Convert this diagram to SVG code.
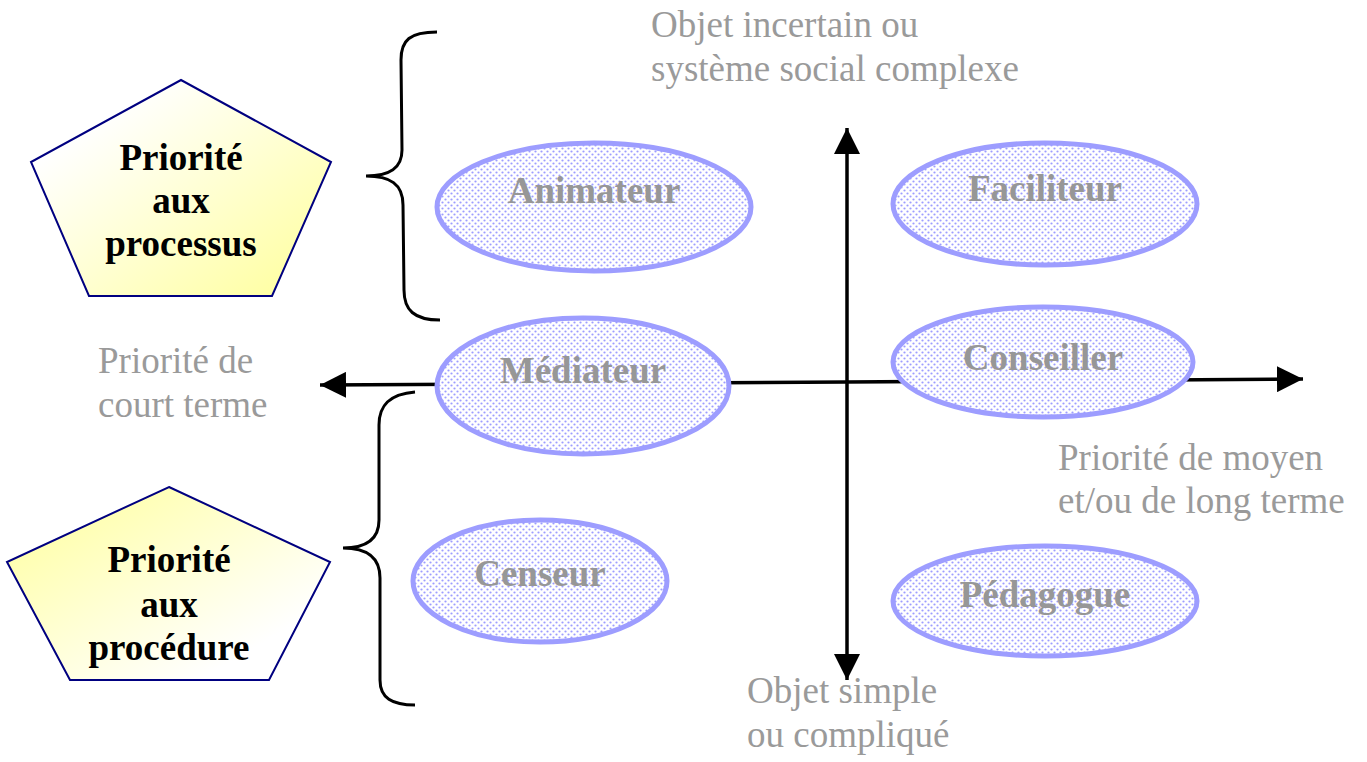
<svg xmlns="http://www.w3.org/2000/svg" width="1367" height="762" viewBox="0 0 1367 762">
  <defs>
    <pattern id="dots" width="6" height="6" patternUnits="userSpaceOnUse">
      <rect width="6" height="6" fill="#ffffff"/>
      <circle cx="1.5" cy="1.5" r="1.1" fill="#9d9dff"/>
      <circle cx="4.5" cy="4.5" r="1.1" fill="#9d9dff"/>
    </pattern>
    <linearGradient id="gradDown" x1="0" y1="0" x2="1" y2="1">
      <stop offset="0.2" stop-color="#ffffff"/>
      <stop offset="1" stop-color="#ffff99"/>
    </linearGradient>
    <linearGradient id="gradUp" x1="0" y1="0" x2="1" y2="1">
      <stop offset="0" stop-color="#ffff99"/>
      <stop offset="0.8" stop-color="#ffffff"/>
    </linearGradient>
    <marker id="arrow" viewBox="0 0 26 26" refX="26" refY="13" markerWidth="26" markerHeight="26" markerUnits="userSpaceOnUse" orient="auto">
      <path d="M0,0 L26,13 L0,26 Z" fill="#000"/>
    </marker>
    <style>
      .role { fill: url(#dots); stroke: #9d9dff; stroke-width: 5; }
      .role-label { font-family: "Liberation Serif", "Times New Roman", serif; font-weight: bold; font-size: 37px; fill: #979797; text-anchor: middle; }
      .axis-label { font-family: "Liberation Serif", "Times New Roman", serif; font-size: 37px; fill: #9a9a9a; }
      .penta { stroke: #000080; stroke-width: 2; }
      .penta-label { font-family: "Liberation Serif", "Times New Roman", serif; font-weight: bold; font-size: 37px; fill: #000; text-anchor: middle; }
      .axis { stroke: #000; stroke-width: 3.5; fill: none; marker-end: url(#arrow); }
      .brace { stroke: #000; stroke-width: 3; fill: none; }
    </style>
  </defs>

  <rect width="1367" height="762" fill="#ffffff"/>

  <!-- axes -->
  <g id="connectors">
    <path class="axis" d="M847,382 L320,385"/>
    <path class="axis" d="M847,382 L1303,379"/>
    <path class="axis" d="M847,382 L847,128"/>
    <path class="axis" d="M847,382 L847,680"/>
  </g>

  <!-- braces -->
  <g id="brace-top">
    <path class="brace" d="M437,32 C410,32 401,40 401,60 L402,150 C402,168 390,176 366,176 C390,176 403,184 403,205 L404,290 C404,310 414,320 440,320"/>
  </g>
  <g id="brace-bottom">
    <path class="brace" d="M415,392 C390,394 379,405 379,425 L379,520 C379,538 368,548 343,548 C368,548 380,558 380,578 L380,680 C380,698 392,705 415,705"/>
  </g>

  <!-- pentagons -->
  <g id="priorite-processus">
    <polygon class="penta" fill="url(#gradDown)" points="181,80 331,162 272,296 89,296 31,162"/>
    <text class="penta-label" x="181" y="170">Priorité</text>
    <text class="penta-label" x="181" y="213">aux</text>
    <text class="penta-label" x="181" y="256">processus</text>
  </g>
  <g id="priorite-procedure">
    <polygon class="penta" fill="url(#gradUp)" points="169,487 330,562 269,680 70,680 7,562"/>
    <text class="penta-label" x="169" y="572">Priorité</text>
    <text class="penta-label" x="169" y="617">aux</text>
    <text class="penta-label" x="169" y="660">procédure</text>
  </g>

  <!-- roles -->
  <g id="animateur">
    <ellipse class="role" cx="594" cy="207" rx="157" ry="64"/>
    <text class="role-label" x="594" y="203">Animateur</text>
  </g>
  <g id="faciliteur">
    <ellipse class="role" cx="1045" cy="204" rx="152" ry="61"/>
    <text class="role-label" x="1045" y="201">Faciliteur</text>
  </g>
  <g id="mediateur">
    <ellipse class="role" cx="583" cy="386" rx="146" ry="68"/>
    <text class="role-label" x="583" y="383">Médiateur</text>
  </g>
  <g id="conseiller">
    <ellipse class="role" cx="1043" cy="362" rx="150" ry="55"/>
    <text class="role-label" x="1043" y="370">Conseiller</text>
  </g>
  <g id="censeur">
    <ellipse class="role" cx="540" cy="581" rx="127" ry="61"/>
    <text class="role-label" x="540" y="586">Censeur</text>
  </g>
  <g id="pedagogue">
    <ellipse class="role" cx="1045" cy="601" rx="152" ry="55"/>
    <text class="role-label" x="1045" y="607">Pédagogue</text>
  </g>

  <!-- axis labels -->
  <g id="label-top">
    <text class="axis-label" x="651" y="37">Objet incertain ou</text>
    <text class="axis-label" x="651" y="81">système social complexe</text>
  </g>
  <g id="label-left">
    <text class="axis-label" x="98" y="373">Priorité de</text>
    <text class="axis-label" x="98" y="417">court terme</text>
  </g>
  <g id="label-right">
    <text class="axis-label" x="1058" y="470">Priorité de moyen</text>
    <text class="axis-label" x="1058" y="513">et/ou de long terme</text>
  </g>
  <g id="label-bottom">
    <text class="axis-label" x="747" y="703">Objet simple</text>
    <text class="axis-label" x="747" y="747">ou compliqué</text>
  </g>
</svg>
